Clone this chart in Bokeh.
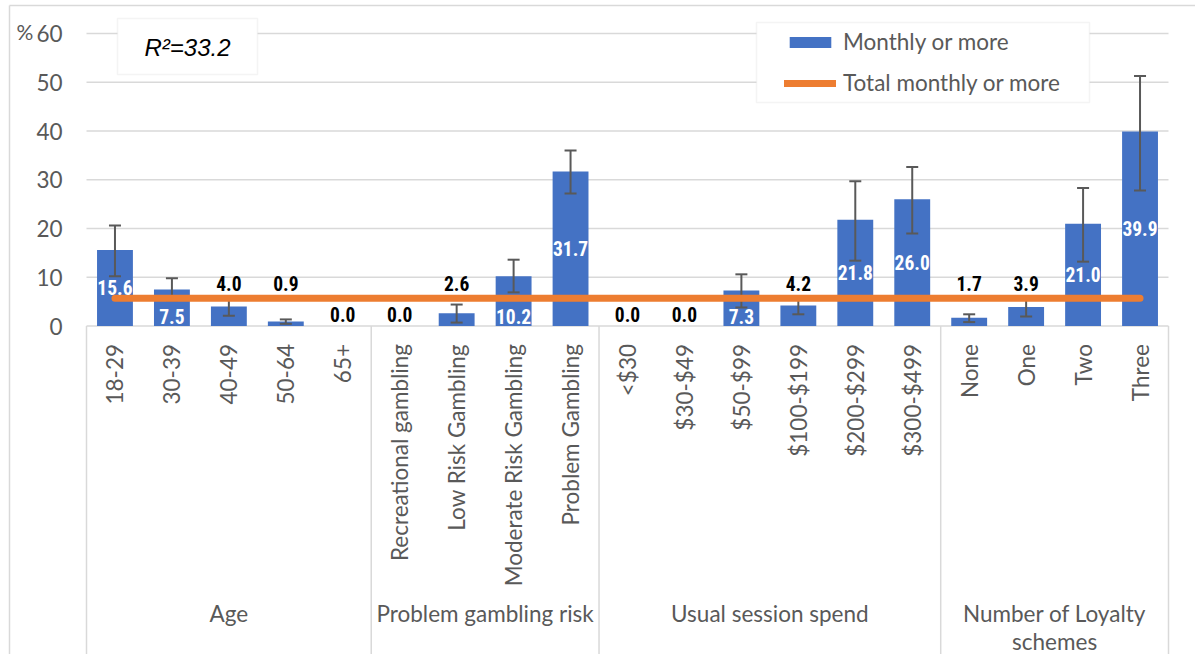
import numpy as np
from bokeh.plotting import figure
from bokeh.models import Range1d, BoxAnnotation, Label, Legend, LegendItem
from bokeh.core.properties import value
from bokeh.embed import file_html
from bokeh.resources import INLINE

# ---------------- data ----------------
categories = ["18-29", "30-39", "40-49", "50-64", "65+",
              "Recreational gambling", "Low Risk Gambling", "Moderate Risk Gambling", "Problem Gambling",
              "<$30", "$30-$49", "$50-$99", "$100-$199", "$200-$299", "$300-$499",
              "None", "One", "Two", "Three"]
group_names = ["Age", "Problem gambling risk", "Usual session spend", "Number of Loyalty\nschemes"]
group_sizes = [5, 4, 6, 4]
monthly = [15.6, 7.5, 4.0, 0.9, 0.0,
           0.0, 2.6, 10.2, 31.7,
           0.0, 0.0, 7.3, 4.2, 21.8, 26.0,
           1.7, 3.9, 21.0, 39.9]
err_upper = [20.6, 9.8, 5.9, 1.35, 0.0,
             0.0, 4.4, 13.6, 36.0,
             0.0, 0.0, 10.6, 6.0, 29.7, 32.6,
             2.4, 5.8, 28.3, 51.3]
err_lower = [10.2, 5.3, 2.1, 0.45, 0.0,
             0.0, 0.7, 6.9, 27.2,
             0.0, 0.0, 3.8, 2.4, 13.4, 19.0,
             0.8, 1.95, 13.2, 27.8]
total_monthly = 5.7
y_ticks = [0, 10, 20, 30, 40, 50, 60]
r_squared_text = "R\u00b2=33.2"

# ---------------- layout ----------------
W, H = 1195, 654
OFF = 0
PLOT_LEFT, PLOT_RIGHT = 86, 1168
YTOP_PX, Y0_PX = 33, 325.5

BLUE = "#4472C4"
ORANGE = "#ED7D31"
GRID = "#d9d9d9"
TXT = "#595959"
AX_FONT_NAME = "Lato"
AX_FONT = value(AX_FONT_NAME)
AX_SIZE = "22.5px"
LAB_FONT = value("Liberation Sans Narrow, Roboto Condensed, Liberation Sans, sans-serif")

n = len(categories)
idx = np.arange(n)
ymax = max(y_ticks)
ppx = (PLOT_RIGHT - PLOT_LEFT) / n
ppy = (Y0_PX - YTOP_PX) / ymax
x_start = -0.5 - (PLOT_LEFT - OFF) / ppx
x_end = x_start + W / ppx
y_end = ymax + (YTOP_PX - OFF) / ppy
y_start = y_end - H / ppy


def px_x(px):
    return x_start + (px - OFF) / ppx


def px_y(py):
    return y_end - (py - OFF) / ppy


p = figure(width=W, height=H, x_range=Range1d(x_start, x_end), y_range=Range1d(y_start, y_end),
           output_backend="svg", toolbar_location=None, x_axis_location=None, y_axis_location=None,
           min_border=0, background_fill_color="white", border_fill_color="white")
p.grid.visible = False
p.outline_line_color = None

# outer chart border (top/left)
p.segment(x0=[px_x(9), px_x(9)], x1=[x_end, px_x(9)], y0=[px_y(5), px_y(5)], y1=[px_y(5), y_start],
          line_color=GRID, line_width=1.5)

# gridlines
left_edge, right_edge = -0.5, n - 0.5
p.segment(x0=[left_edge] * len(y_ticks), x1=[right_edge] * len(y_ticks), y0=y_ticks, y1=y_ticks,
          line_color=GRID, line_width=1.5)

# category box lines
starts = np.concatenate([[0], np.cumsum(group_sizes)[:-1]])
bounds = [s - 0.5 for s in starts] + [n - 0.5]
p.segment(x0=bounds, x1=bounds, y0=[0] * len(bounds), y1=[y_start] * len(bounds),
          line_color=GRID, line_width=1.5)

# y tick labels
p.text(x=[left_edge] * len(y_ticks), y=y_ticks, text=[str(t) for t in y_ticks], x_offset=-24,
       text_align="right", text_baseline="middle", text_font=AX_FONT, text_font_size=AX_SIZE,
       text_color=TXT)
p.text(x=[left_edge], y=[ymax], text=["%"], x_offset=-70, y_offset=-2, text_align="left",
       text_baseline="middle", text_font=AX_FONT, text_font_size="21px", text_color=TXT)

# bars
bars = p.vbar(x=idx, top=monthly, width=0.63, bottom=0, fill_color=BLUE, line_color=None)

# error bars
has_err = [i for i in range(n) if err_upper[i] > err_lower[i]]
ex = [float(idx[i]) for i in has_err]
eu = [err_upper[i] for i in has_err]
el = [err_lower[i] for i in has_err]
p.segment(x0=ex, x1=ex, y0=el, y1=eu, line_color=TXT, line_width=2)
p.scatter(x=ex + ex, y=eu + el, marker="dash", size=12, line_color=TXT, line_width=2)

# total line
tline = p.line(x=idx, y=[total_monthly] * n, line_color=ORANGE, line_width=7, line_cap="round")

# value labels
lab_y, lab_c = [], []
for v in monthly:
    if v == 0:
        lab_y.append(2.4); lab_c.append("#000000")
    elif v < 5:
        lab_y.append(total_monthly + 3.0); lab_c.append("#000000")
    elif v < 12:
        lab_y.append(2.0); lab_c.append("#ffffff")
    else:
        lab_y.append(v / 2); lab_c.append("#ffffff")
p.text(x=idx, y=lab_y, text=[f"{v:.1f}" for v in monthly], text_color=lab_c,
       text_align="center", text_baseline="middle", text_font=LAB_FONT,
       text_font_size="19.5px", text_font_style="bold")

# category labels (rotated)
p.text(x=idx, y=[0] * n, text=categories, angle=np.pi / 2, y_offset=18,
       text_align="right", text_baseline="middle", text_font=AX_FONT, text_font_size=AX_SIZE,
       text_color=TXT)

# group labels
gcent = [float(s + (g - 1) / 2) for s, g in zip(starts, group_sizes)]
p.text(x=gcent, y=[0] * len(gcent), text=group_names, y_offset=274,
       text_align="center", text_baseline="top", text_font=AX_FONT, text_font_size=AX_SIZE,
       text_color=TXT, text_line_height=1.05)

# R2 box
p.add_layout(BoxAnnotation(left=px_x(117), right=px_x(257), top=px_y(18), bottom=px_y(74),
                           fill_color="white", fill_alpha=1, line_color=GRID, line_width=1.5))
p.add_layout(Label(x=px_x(187), y=px_y(47), text=r_squared_text, text_align="center",
                   text_baseline="middle", text_font="Liberation Sans", text_font_size="24px",
                   text_font_style="italic", text_color="#000000"))

# legend box + legend
p.add_layout(BoxAnnotation(left=px_x(756), right=px_x(1089), top=px_y(22), bottom=px_y(102),
                           fill_color="white", fill_alpha=1, line_color=GRID, line_width=1.5))
legend = Legend(items=[LegendItem(label="Monthly or more", renderers=[bars]),
                       LegendItem(label="Total monthly or more", renderers=[tline])],
                location=(784 - OFF, H - (96 - OFF)), padding=0, margin=0,
                border_line_color=None, background_fill_alpha=0,
                glyph_width=52, glyph_height=14, label_standoff=7, spacing=14, label_height=26,
                label_text_font=AX_FONT_NAME, label_text_font_size=AX_SIZE, label_text_color=TXT)
p.add_layout(legend, "center")

open("out.html", "w").write(file_html(p, INLINE))
